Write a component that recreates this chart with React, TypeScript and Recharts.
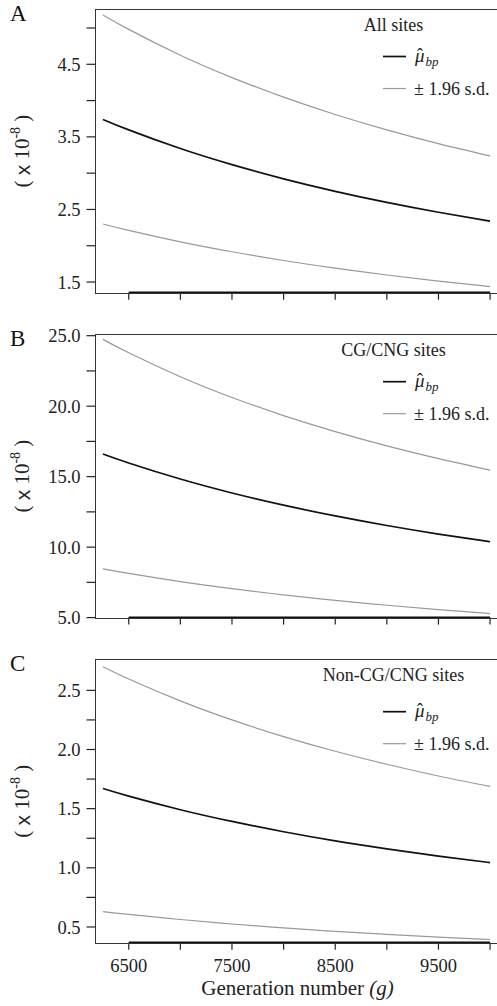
import React from 'react';
import { LineChart, Line, XAxis, YAxis, Legend, Label, ReferenceLine } from 'recharts';

const generations = [6250, 6500, 7000, 7500, 8000, 8500, 9000, 9500, 10000];

const allMean = [3.74, 3.596, 3.339, 3.117, 2.922, 2.75, 2.597, 2.461, 2.338];
const allUpper = [5.18, 4.981, 4.625, 4.317, 4.047, 3.809, 3.597, 3.408, 3.238];
const allLower = [2.3, 2.212, 2.054, 1.917, 1.797, 1.691, 1.597, 1.513, 1.438];

const cgMean = [16.61, 15.971, 14.83, 13.842, 12.977, 12.213, 11.535, 10.928, 10.381];
const cgUpper = [24.74, 23.788, 22.089, 20.617, 19.328, 18.191, 17.181, 16.276, 15.463];
const cgLower = [8.46, 8.135, 7.554, 7.05, 6.609, 6.221, 5.875, 5.566, 5.288];

const nonMean = [1.67, 1.606, 1.491, 1.392, 1.305, 1.228, 1.16, 1.099, 1.044];
const nonUpper = [2.7, 2.596, 2.411, 2.25, 2.109, 1.985, 1.875, 1.776, 1.688];
const nonLower = [0.63, 0.606, 0.563, 0.525, 0.492, 0.463, 0.438, 0.414, 0.394];

const xTicks = [6500, 7000, 7500, 8000, 8500, 9000, 9500, 10000];
const xTickLabels = [6500, 7500, 8500, 9500];

const allYTicks = [1.5, 2, 2.5, 3, 3.5, 4, 4.5, 5];
const allYLabels = [1.5, 2.5, 3.5, 4.5];
const cgYTicks = [5, 7.5, 10, 12.5, 15, 17.5, 20, 22.5, 25];
const cgYLabels = [5, 10, 15, 20, 25];
const nonYTicks = [0.5, 0.75, 1, 1.25, 1.5, 1.75, 2, 2.25, 2.5];
const nonYLabels = [0.5, 1, 1.5, 2, 2.5];

const SERIF = 'Liberation Serif, Times New Roman, serif';
const X_DOMAIN: [number, number] = [6178, 10072];
const CHART_W = 510;
const Y_AXIS_W = 95.5;
const INK = '#222';
const FRAME = '#333';

const build = (mean: number[], upper: number[], lower: number[]) =>
  generations.map((g, i) => ({ g, mean: mean[i], upper: upper[i], lower: lower[i] }));

interface PanelProps {
  letter: string;
  title: string;
  mean: number[];
  upper: number[];
  lower: number[];
  yDomain: [number, number];
  yTicks: number[];
  yLabels: number[];
  top: number;
  height: number;
  marginTop: number;
  xAxisHeight: number;
  showXLabels: boolean;
  legendShift: number;
}

function PanelLegend({ payload, marginTop, legendShift, title }: any) {
  const cx = 393.5;
  const t = marginTop;
  const l1 = t + 47 + legendShift;
  const l2 = t + 79 + legendShift;
  const items = payload || [];
  const meanColor = items[0]?.color || '#111';
  const sdColor = items[1]?.color || '#999';
  return (
    <svg
      width={CHART_W}
      height={120}
      style={{ position: 'absolute', left: 0, top: 0, overflow: 'visible', pointerEvents: 'none' }}
    >
      <text x={cx} y={t + 21.5} textAnchor="middle" fontFamily={SERIF} fontSize={18} fill={INK}>
        {title}
      </text>
      <line x1={383} x2={406} y1={l1} y2={l1} stroke={meanColor} strokeWidth={1.7} />
      <text x={415} y={l1 + 5} fontFamily={SERIF} fontSize={19} fontStyle="italic" fill={INK}>
        {'\u03bc'}
        <tspan dx={-7.5} dy={-1} fontStyle="normal" fontSize={18}>
          {'\u02c6'}
        </tspan>
        <tspan dx={2.5} dy={5} fontSize={13}>
          bp
        </tspan>
      </text>
      <line x1={383} x2={406} y1={l2} y2={l2} stroke={sdColor} strokeWidth={1.2} />
      <text x={414} y={l2 + 6.5} fontFamily={SERIF} fontSize={18} fill={INK}>
        {'\u00b1 1.96 s.d.'}
      </text>
    </svg>
  );
}

function Panel(p: PanelProps) {
  const data = build(p.mean, p.upper, p.lower);
  const plotH = p.height - p.marginTop - p.xAxisHeight;
  const tickStyle = { fill: INK, fontFamily: SERIF, fontSize: 18.5 };
  const [yMin, yMax] = p.yDomain;
  return (
    <div
      style={{
        position: 'absolute',
        left: 0,
        top: p.top,
        width: CHART_W,
        height: p.height,
        fontFamily: SERIF,
      }}
    >
      <div
        style={{
          position: 'absolute',
          left: 10,
          top: p.marginTop - 8,
          fontFamily: SERIF,
          fontSize: 23,
          color: '#111',
          lineHeight: '23px',
        }}
      >
        {p.letter}
      </div>
      <LineChart
        width={CHART_W}
        height={p.height}
        data={data}
        margin={{ top: p.marginTop, right: CHART_W - 497.5, bottom: 0, left: 0 }}
        style={{ fontFamily: SERIF }}
      >
        <XAxis
          type="number"
          dataKey="g"
          domain={X_DOMAIN}
          ticks={xTicks}
          allowDataOverflow
          height={p.xAxisHeight}
          axisLine={false}
          tickLine={{ stroke: INK, strokeWidth: 1.2 }}
          tickSize={7}
          tickMargin={9}
          tick={tickStyle}
          tickFormatter={(v: number) => (p.showXLabels && xTickLabels.includes(v) ? String(v) : '')}
          interval={0}
        >
          {p.showXLabels && (
            <Label
              content={(lp: any) => {
                const vb = lp.viewBox || { x: Y_AXIS_W, y: 0, width: 402 };
                return (
                  <text
                    x={vb.x + vb.width / 2 + 1}
                    y={vb.y + 52.5}
                    textAnchor="middle"
                    fontFamily={SERIF}
                    fontSize={21}
                    fill={INK}
                  >
                    Generation number <tspan fontStyle="italic">(g)</tspan>
                  </text>
                );
              }}
            />
          )}
        </XAxis>
        <YAxis
          type="number"
          domain={p.yDomain}
          ticks={p.yTicks}
          allowDataOverflow
          width={Y_AXIS_W}
          axisLine={false}
          tickLine={{ stroke: INK, strokeWidth: 1.2 }}
          tickSize={9}
          tickMargin={6}
          tick={tickStyle}
          tickFormatter={(v: number) => (p.yLabels.includes(v) ? v.toFixed(1) : '')}
          interval={0}
        >
          <Label
            content={(lp: any) => {
              const vb = lp.viewBox || { x: 0, y: p.marginTop, height: plotH };
              const cx = 22;
              const cy = vb.y + vb.height / 2;
              return (
                <text
                  x={cx}
                  y={cy}
                  transform={`rotate(-90, ${cx}, ${cy})`}
                  textAnchor="middle"
                  dominantBaseline="central"
                  fontFamily={SERIF}
                  fontSize={21}
                  fill={INK}
                >
                  {'( '}
                  <tspan fontFamily="Liberation Sans, Arial, sans-serif">x</tspan>
                  {' 10'}
                  <tspan fontSize={14} dy={-7}>-8</tspan>
                  <tspan dy={7}>{' )'}</tspan>
                </text>
              );
            }}
          />
        </YAxis>
        <ReferenceLine
          segment={[
            { x: 6500, y: yMin },
            { x: 10000, y: yMin },
          ]}
          stroke="#111"
          strokeWidth={2.2}
          ifOverflow="visible"
        />
        <Line
          type="natural"
          dataKey="upper"
          name="± 1.96 s.d."
          stroke="#999999"
          strokeWidth={1.2}
          dot={false}
          legendType="none"
          isAnimationActive={false}
        />
        <Line
          type="natural"
          dataKey="mean"
          name="mu_bp"
          stroke="#111111"
          strokeWidth={1.7}
          dot={false}
          isAnimationActive={false}
        />
        <Line
          type="natural"
          dataKey="lower"
          name="± 1.96 s.d."
          stroke="#999999"
          strokeWidth={1.2}
          dot={false}
          isAnimationActive={false}
        />
        <Legend
          wrapperStyle={{ left: 0, top: 0, width: 0, height: 0 }}
          content={(lp: any) => (
            <PanelLegend
              payload={lp.payload}
              marginTop={p.marginTop}
              legendShift={p.legendShift}
              title={p.title}
            />
          )}
        />
      </LineChart>
      {/* plot frame: left, top and bottom edges; the right edge falls outside the crop */}
      <div
        style={{
          position: 'absolute',
          left: Y_AXIS_W - 0.7,
          top: p.marginTop - 0.7,
          width: 430,
          height: plotH - 0.2,
          borderLeft: `1.4px solid ${FRAME}`,
          borderTop: `1.3px solid ${FRAME}`,
          borderBottom: `1.3px solid ${FRAME}`,
          pointerEvents: 'none',
        }}
      />
    </div>
  );
}

export default function App() {
  return (
    <div
      style={{
        position: 'absolute',
        left: 0,
        top: 0,
        width: 497,
        height: 1006,
        overflow: 'hidden',
        background: '#fff',
      }}
    >
      <Panel
        letter="A"
        title="All sites"
        mean={allMean}
        upper={allUpper}
        lower={allLower}
        yDomain={[1.353, 5.255]}
        yTicks={allYTicks}
        yLabels={allYLabels}
        top={0}
        height={325}
        marginTop={9.5}
        xAxisHeight={32.3}
        showXLabels={false}
        legendShift={0}
      />
      <Panel
        letter="B"
        title="CG/CNG sites"
        mean={cgMean}
        upper={cgUpper}
        lower={cgLower}
        yDomain={[5, 25.07]}
        yTicks={cgYTicks}
        yLabels={cgYLabels}
        top={325}
        height={325}
        marginTop={9.7}
        xAxisHeight={32.4}
        showXLabels={false}
        legendShift={0}
      />
      <Panel
        letter="C"
        title="Non-CG/CNG sites"
        mean={nonMean}
        upper={nonUpper}
        lower={nonLower}
        yDomain={[0.367, 2.759]}
        yTicks={nonYTicks}
        yLabels={nonYLabels}
        top={650}
        height={356}
        marginTop={9.7}
        xAxisHeight={63.3}
        showXLabels={true}
        legendShift={5}
      />
    </div>
  );
}
